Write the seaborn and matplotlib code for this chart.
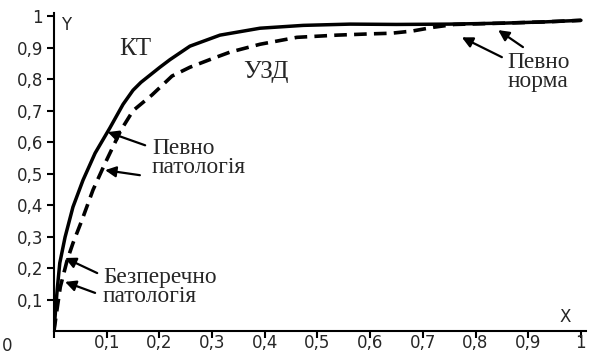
import numpy as np
import pandas as pd
import matplotlib
matplotlib.use("Agg")
import matplotlib.pyplot as plt
import seaborn as sns

## Data
kt_x = [0, 0.002, 0.006, 0.011, 0.021, 0.036, 0.055, 0.078, 0.106, 0.131, 0.15,
        0.165, 0.18, 0.201, 0.22, 0.258, 0.315, 0.391, 0.473, 0.562, 0.65,
        0.75, 0.85, 0.93, 1.0]
kt_y = [0, 0.044, 0.13, 0.216, 0.298, 0.394, 0.479, 0.565, 0.645, 0.72, 0.765,
        0.79, 0.81, 0.838, 0.862, 0.905, 0.94, 0.962, 0.971, 0.975, 0.974,
        0.975, 0.978, 0.982, 0.987]

uzd_x = [0, 0.005, 0.012, 0.025, 0.036, 0.053, 0.074, 0.097, 0.127, 0.15,
         0.186, 0.224, 0.258, 0.3, 0.334, 0.391, 0.461, 0.537, 0.6, 0.64,
         0.68, 0.72, 0.76, 0.85, 0.93, 1.0]
uzd_y = [0, 0.06, 0.14, 0.225, 0.279, 0.352, 0.448, 0.533, 0.638, 0.70,
         0.75, 0.81, 0.838, 0.865, 0.886, 0.911, 0.933, 0.94, 0.944, 0.946,
         0.953, 0.965, 0.974, 0.978, 0.982, 0.987]

x_ticks = [0, 0.1, 0.2, 0.3, 0.4, 0.5, 0.6, 0.7, 0.8, 0.9, 1.0]
x_tick_labels = ["", "0,1", "0,2", "0,3", "0,4", "0,5", "0,6", "0,7", "0,8", "0,9", "1"]
y_ticks = [0.1, 0.2, 0.3, 0.4, 0.5, 0.6, 0.7, 0.8, 0.9, 1.0]
y_tick_labels = ["0,1", "0,2", "0,3", "0,4", "0,5", "0,6", "0,7", "0,8", "0,9", "1"]

kt = pd.DataFrame({"x": kt_x, "y": kt_y})
uzd = pd.DataFrame({"x": uzd_x, "y": uzd_y})

## Style
sns.set_style("ticks")
plt.rcParams["font.family"] = ["DejaVu Sans"]
serif = "Liberation Serif"

fig = plt.figure(figsize=(5.92, 3.6), dpi=100)
ax = fig.add_axes([0.0912, 0.0806, 0.899, 0.883])

# curves
sns.lineplot(data=uzd, x="x", y="y", ax=ax, color="black", linewidth=2.6,
             sort=False, estimator=None, linestyle=(0, (3.5, 2)))
sns.lineplot(data=kt, x="x", y="y", ax=ax, color="black", linewidth=2.5,
             sort=False, estimator=None)

ax.set_xlim(0, 1.01)
ax.set_ylim(0, 1.01)
ax.set_xticks(x_ticks)
ax.set_xticklabels(x_tick_labels)
ax.set_yticks(y_ticks)
ax.set_yticklabels(y_tick_labels)
ax.tick_params(axis="both", labelsize=12, width=1.5, length=5, color="black")
ax.tick_params(axis="x", pad=-3)
ax.tick_params(axis="y", pad=3)
ax.set_xlabel("")
ax.set_ylabel("")
sns.despine(ax=ax)
for side in ["left", "bottom"]:
    ax.spines[side].set_linewidth(1.5)
    ax.spines[side].set_color("black")

# axis letters and origin
ax.text(0.023, 0.972, "Y", fontsize=12, ha="center", va="center")
ax.text(0.97, 0.044, "X", fontsize=12, ha="center", va="center")
ax.text(-0.089, -0.048, "0", fontsize=12, ha="center", va="center", clip_on=False)

# curve names
ax.text(0.154, 0.897, "КТ", family=serif, fontsize=18, ha="center", va="center")
ax.text(0.402, 0.822, "УЗД", family=serif, fontsize=18, ha="center", va="center")

# labels with arrows (y = baseline of the lower line)
note_kw = dict(family=serif, fontsize=16.8, ha="left", va="baseline", linespacing=0.9)
ax.text(0.186, 0.502, "Певно\nпатологія", **note_kw)
ax.text(0.093, 0.092, "Безперечно\nпатологія", **note_kw)
ax.text(0.86, 0.775, "Певно\nнорма", **note_kw)

arrows = [((0.102, 0.632), (0.173, 0.590)),
          ((0.097, 0.511), (0.163, 0.495)),
          ((0.021, 0.232), (0.082, 0.184)),
          ((0.021, 0.156), (0.078, 0.121)),
          ((0.774, 0.933), (0.850, 0.870)),
          ((0.843, 0.956), (0.890, 0.902))]
for tip, tail in arrows:
    ax.annotate("", xy=tip, xytext=tail,
                arrowprops=dict(arrowstyle="-|>", color="black", lw=1.6,
                                mutation_scale=16, shrinkA=0, shrinkB=0))

plt.savefig("out.png", dpi=100)
plt.close()
